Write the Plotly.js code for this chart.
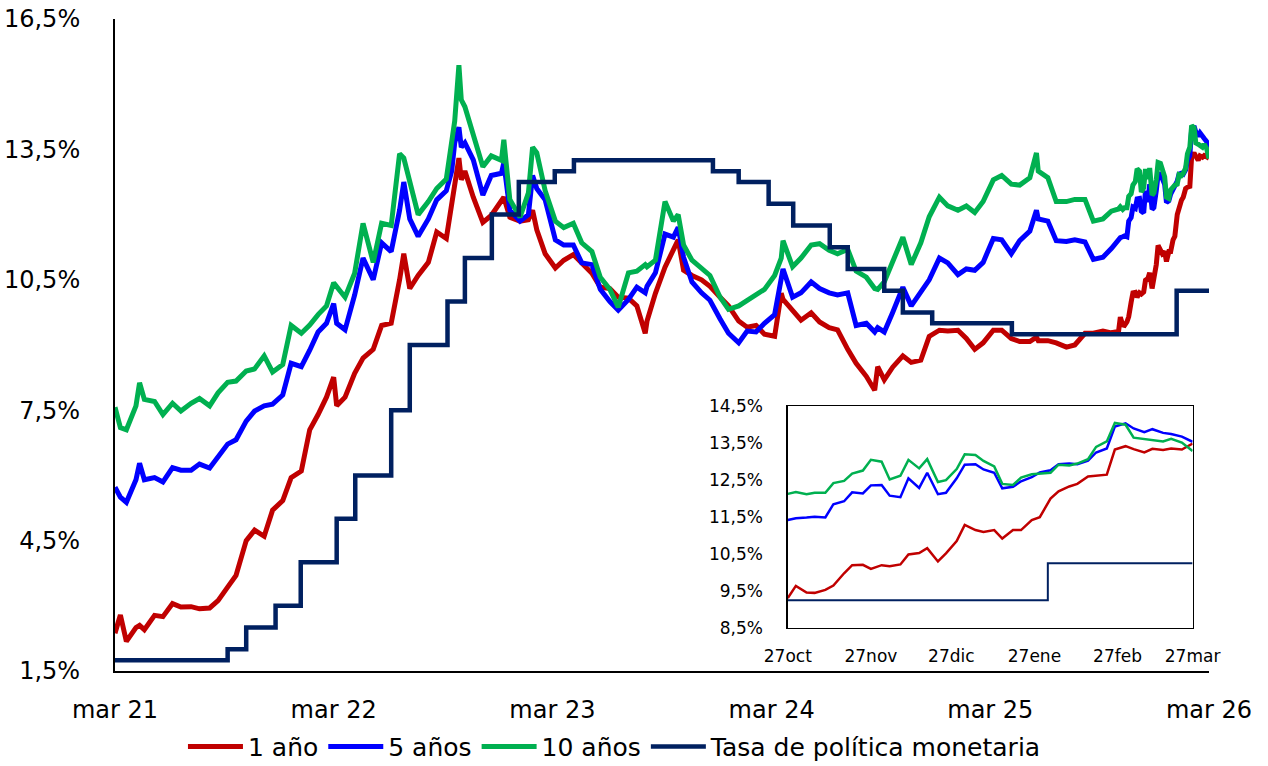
<!DOCTYPE html>
<html>
<head>
<meta charset="utf-8">
<script src="https://cdn.plot.ly/plotly-3.0.1.min.js"></script>
<style>
html,body{margin:0;padding:0;background:#fff;}
#chart{width:1268px;height:766px;}
</style>
</head>
<body>
<div id="chart"></div>
<script>
// ---------- Main chart data (tasas cero cupón, %) ----------
const dates = [
'2021-03-27','2021-04-05','2021-04-15','2021-05-01','2021-05-07','2021-05-15','2021-06-01','2021-06-15','2021-07-01','2021-07-15','2021-08-01','2021-08-15','2021-09-01','2021-09-15','2021-10-01','2021-10-15','2021-11-01','2021-11-15','2021-12-01','2021-12-15',
'2022-01-01','2022-01-15','2022-02-01','2022-02-15','2022-03-01','2022-03-15','2022-03-27','2022-04-01','2022-04-15','2022-05-01','2022-05-15','2022-06-01','2022-06-15','2022-07-01','2022-07-15','2022-07-22','2022-08-01','2022-08-15','2022-09-01','2022-09-15','2022-10-01','2022-10-10','2022-10-15','2022-10-22','2022-10-26','2022-11-01','2022-11-15','2022-12-01','2022-12-15',
'2023-01-01','2023-01-05','2023-01-15','2023-02-01','2023-02-15','2023-02-22','2023-03-01','2023-03-15','2023-04-01','2023-04-15','2023-05-01','2023-05-15','2023-06-01','2023-06-15','2023-07-01','2023-07-15','2023-08-01','2023-08-15','2023-08-29','2023-09-01','2023-09-15','2023-10-01','2023-10-15','2023-10-23','2023-11-01','2023-11-15','2023-12-01','2023-12-15',
'2024-01-01','2024-01-15','2024-02-01','2024-02-15','2024-03-01','2024-03-15','2024-04-01','2024-04-12','2024-04-15','2024-05-01','2024-05-15','2024-06-01','2024-06-15','2024-07-01','2024-07-15','2024-08-01','2024-08-15','2024-09-01','2024-09-15','2024-09-20','2024-10-01','2024-10-15','2024-11-01','2024-11-15','2024-12-01','2024-12-15',
'2025-01-01','2025-01-15','2025-02-01','2025-02-15','2025-03-01','2025-03-15','2025-04-01','2025-04-15','2025-05-01','2025-05-15','2025-06-01','2025-06-12','2025-06-15','2025-07-01','2025-07-15','2025-08-01','2025-08-15','2025-09-01','2025-09-15','2025-10-01','2025-10-15'
];
const y1 = [
2.37,2.79,2.18,2.50,2.55,2.45,2.78,2.75,3.05,2.97,2.98,2.93,2.95,3.12,3.43,3.70,4.50,4.74,4.60,5.20,
5.42,5.95,6.10,7.05,7.40,7.80,8.26,7.60,7.80,8.35,8.70,8.90,9.45,9.50,10.50,11.10,10.30,10.60,10.90,11.60,11.45,12.20,12.60,13.30,12.80,13.00,12.40,11.82,11.98,
12.30,12.40,11.94,11.85,11.88,12.10,11.65,11.10,10.77,10.95,11.08,10.89,10.65,10.33,10.30,10.10,10.08,9.90,9.27,9.55,10.19,10.79,11.20,11.42,10.72,10.60,10.50,10.35,
10.10,9.90,9.55,9.41,9.45,9.25,9.20,10.19,10.05,9.80,9.57,9.74,9.53,9.40,9.35,8.90,8.58,8.28,7.96,8.50,8.20,8.49,8.75,8.60,8.65,9.20,
9.34,9.32,9.34,9.15,8.90,9.05,9.34,9.34,9.15,9.08,9.08,9.18,9.10,9.10,9.05,8.95,9.00,9.27,9.27,9.32,9.28
];
const y5 = [
5.73,5.50,5.38,5.90,6.28,5.90,5.95,5.85,6.18,6.12,6.12,6.26,6.17,6.42,6.72,6.82,7.25,7.48,7.60,7.64,
7.85,8.58,8.50,8.88,9.30,9.50,9.95,9.50,9.35,10.15,11.00,10.50,11.35,11.15,12.10,12.75,11.90,11.50,11.90,12.34,12.55,13.00,13.65,14.01,13.55,13.65,13.26,12.45,12.90,
12.95,13.19,12.10,11.85,12.00,12.90,12.60,12.34,11.42,11.30,11.30,10.89,10.85,10.28,10.00,9.80,10.05,10.33,10.20,10.35,10.66,11.55,11.48,11.71,11.02,10.45,10.20,10.03,
9.60,9.27,9.05,9.32,9.30,9.50,9.70,10.50,10.75,10.10,10.20,10.45,10.30,10.20,10.15,10.20,9.45,9.50,9.30,9.40,9.30,9.75,10.33,9.90,10.20,10.50,
11.00,10.89,10.62,10.75,10.72,10.90,11.45,11.42,11.10,11.40,11.62,12.10,11.90,11.85,11.40,11.38,11.42,11.37,10.97,11.02,11.22
];
const y10 = [
7.57,7.10,7.05,7.60,8.13,7.75,7.70,7.40,7.66,7.48,7.66,7.77,7.60,7.90,8.14,8.17,8.40,8.45,8.75,8.38,
8.55,9.45,9.27,9.46,9.70,9.90,10.43,10.35,10.10,10.65,11.80,10.90,11.80,11.75,13.40,13.30,12.80,12.00,12.30,12.60,12.82,13.60,14.15,15.44,14.64,14.48,13.83,13.10,13.35,
13.25,13.72,12.35,11.94,12.50,13.55,13.42,12.55,11.85,11.70,11.80,11.35,11.15,10.56,10.28,9.87,10.66,10.70,10.85,10.80,10.95,12.30,11.85,12.00,11.30,10.95,10.77,10.60,
10.10,9.82,9.90,10.03,10.14,10.28,10.60,11.00,11.40,10.80,11.00,11.30,11.33,11.18,11.10,11.20,10.70,10.56,10.30,10.28,10.45,10.95,11.48,10.85,11.35,11.95,
12.40,12.20,12.10,12.20,12.05,12.30,12.80,12.90,12.70,12.68,12.85,13.42,13.00,12.85,12.30,12.30,12.35,12.35,11.85,11.90,12.08
];

// ---------- Recent period (also shown in the inset) ----------
const insetDates = [
'2025-10-27','2025-10-30','2025-11-03','2025-11-06','2025-11-10','2025-11-13','2025-11-17','2025-11-20','2025-11-24','2025-11-27',
'2025-12-01','2025-12-04','2025-12-08','2025-12-11','2025-12-15','2025-12-18','2025-12-22','2025-12-25','2025-12-29','2026-01-01',
'2026-01-05','2026-01-08','2026-01-12','2026-01-15','2026-01-19','2026-01-22','2026-01-26','2026-01-29','2026-02-02','2026-02-05',
'2026-02-09','2026-02-12','2026-02-16','2026-02-19','2026-02-23','2026-02-26','2026-03-02','2026-03-05','2026-03-09','2026-03-12',
'2026-03-16','2026-03-19','2026-03-23','2026-03-27'
];
const in1 = [9.31,9.64,9.46,9.45,9.53,9.65,9.98,10.20,10.21,10.10,10.20,10.17,10.22,10.49,10.53,10.66,10.30,10.52,10.85,11.29,11.15,11.10,11.15,10.92,11.15,11.15,11.42,11.50,12.00,12.20,12.33,12.40,12.60,12.63,12.65,13.33,13.42,13.34,13.25,13.35,13.32,13.36,13.33,13.49];
const in5 = [11.42,11.47,11.49,11.51,11.49,11.85,11.93,12.17,12.14,12.36,12.37,12.08,12.04,12.55,12.29,12.70,12.12,12.16,12.55,12.92,12.93,12.79,12.70,12.28,12.32,12.47,12.58,12.71,12.77,12.93,12.95,12.93,13.03,13.25,13.36,13.95,14.04,13.90,13.80,13.88,13.78,13.75,13.68,13.54];
const in10 = [12.13,12.18,12.12,12.16,12.16,12.42,12.48,12.68,12.76,13.05,13.00,12.52,12.62,13.05,12.82,13.07,12.45,12.50,12.80,13.20,13.18,13.02,12.87,12.40,12.37,12.57,12.66,12.68,12.70,12.92,12.90,12.95,13.07,13.40,13.55,14.05,14.00,13.65,13.62,13.60,13.55,13.62,13.52,13.29];

// ---------- Tasa de política monetaria (fecha de cambio, nivel) ----------
const tpmDates = ['2021-03-27','2021-10-01','2021-11-01','2021-12-20','2022-01-31','2022-04-01','2022-05-02','2022-07-01','2022-08-01','2022-10-03','2022-11-01','2022-12-16','2023-01-30','2023-03-31','2023-05-02','2023-12-20','2024-02-01','2024-03-22','2024-05-02','2024-07-02','2024-08-01','2024-10-01','2024-11-01','2024-12-20','2025-05-02','2026-02-01','2026-03-27'];
const tpmVals  = [1.75,2.0,2.5,3.0,4.0,5.0,6.0,7.5,9.0,10.0,11.0,12.0,12.75,13.0,13.25,13.0,12.75,12.25,11.75,11.25,10.75,10.25,9.75,9.5,9.25,10.25,10.25];

// ---------- Labels ----------
const seriesNames = ['1 año','5 años','10 años','Tasa de política monetaria'];
const seriesColors = ['#C00000','#0000FF','#00B050','#002060'];
const mainXTickVals = ['2021-03-27','2022-03-27','2023-03-27','2024-03-27','2025-03-27','2026-03-27'];
const mainXTickText = ['mar 21','mar 22','mar 23','mar 24','mar 25','mar 26'];
const mainYTickVals = [1.5,4.5,7.5,10.5,13.5,16.5];
const mainYTickText = ['1,5%','4,5%','7,5%','10,5%','13,5%','16,5%'];
const insetXTickVals = ['2025-10-27','2025-11-27','2025-12-27','2026-01-27','2026-02-27','2026-03-27'];
const insetXTickText = ['27oct','27nov','27dic','27ene','27feb','27mar'];
const insetYTickVals = [8.5,9.5,10.5,11.5,12.5,13.5,14.5];
const insetYTickText = ['8,5%','9,5%','10,5%','11,5%','12,5%','13,5%','14,5%'];

// ---------- Build traces ----------
const allDates = dates.concat(insetDates);
const main1 = y1.concat(in1), main5 = y5.concat(in5), main10 = y10.concat(in10);

// TPM for inset: level in effect at inset start, then later changes
const insetStart = insetDates[0];
let startLevel = tpmVals[0];
tpmDates.forEach((d,i)=>{ if (d <= insetStart) startLevel = tpmVals[i]; });
const tpmInX = [insetStart], tpmInY = [startLevel];
tpmDates.forEach((d,i)=>{ if (d > insetStart) { tpmInX.push(d); tpmInY.push(tpmVals[i]); } });

const FONT = 'DejaVu Sans, sans-serif';
const traces = [
  {x: allDates, y: main1, name: seriesNames[0], mode:'lines', line:{color:seriesColors[0], width:5}, xaxis:'x', yaxis:'y'},
  {x: allDates, y: main5, name: seriesNames[1], mode:'lines', line:{color:seriesColors[1], width:5}, xaxis:'x', yaxis:'y'},
  {x: allDates, y: main10, name: seriesNames[2], mode:'lines', line:{color:seriesColors[2], width:5}, xaxis:'x', yaxis:'y'},
  {x: tpmDates, y: tpmVals, name: seriesNames[3], mode:'lines', line:{color:seriesColors[3], width:4.5, shape:'hv'}, xaxis:'x', yaxis:'y'},
  {x: insetDates, y: in1, name: seriesNames[0], showlegend:false, mode:'lines', line:{color:seriesColors[0], width:2.5}, xaxis:'x2', yaxis:'y2'},
  {x: insetDates, y: in5, name: seriesNames[1], showlegend:false, mode:'lines', line:{color:seriesColors[1], width:2.5}, xaxis:'x2', yaxis:'y2'},
  {x: insetDates, y: in10, name: seriesNames[2], showlegend:false, mode:'lines', line:{color:seriesColors[2], width:2.5}, xaxis:'x2', yaxis:'y2'},
  {x: tpmInX, y: tpmInY, name: seriesNames[3], showlegend:false, mode:'lines', line:{color:seriesColors[3], width:2, shape:'hv'}, xaxis:'x2', yaxis:'y2'}
];

const layout = {
  width: 1268, height: 766,
  margin: {l:115, r:59, t:19, b:95, autoexpand:false},
  paper_bgcolor:'#ffffff', plot_bgcolor:'#ffffff',
  font: {family: FONT, color:'#000000', size:24},
  showlegend: true,
  legend: {orientation:'h', x:0.457, xanchor:'center', y:-0.116, yanchor:'middle', itemwidth:55, font:{family:FONT, size:25, color:'#000'}, bgcolor:'rgba(0,0,0,0)'},
  xaxis: {
    type:'date', range:['2021-03-27','2026-03-27'], domain:[0,1],
    tickmode:'array', tickvals: mainXTickVals, ticktext: mainXTickText,
    showline:true, linecolor:'#000', linewidth:2, showgrid:false, zeroline:false, ticks:'',
    tickfont:{family:FONT, size:24, color:'#000'}, ticklabelstandoff:16
  },
  yaxis: {
    range:[1.5,16.5], domain:[0,1],
    tickmode:'array', tickvals: mainYTickVals, ticktext: mainYTickText,
    showline:true, linecolor:'#000', linewidth:2, showgrid:false, zeroline:false, ticks:'',
    tickfont:{family:FONT, size:24, color:'#000'}, ticklabelstandoff:28
  },
  xaxis2: {
    type:'date', anchor:'y2', domain:[0.615,0.985], range:['2025-10-27','2026-03-27'],
    tickmode:'array', tickvals: insetXTickVals, ticktext: insetXTickText,
    showline:true, mirror:true, linecolor:'#000', linewidth:1.5, showgrid:false, zeroline:false, ticks:'',
    tickfont:{family:FONT, size:17, color:'#000'}, ticklabelstandoff:12
  },
  yaxis2: {
    anchor:'x2', domain:[0.066,0.406], range:[8.5,14.5],
    tickmode:'array', tickvals: insetYTickVals, ticktext: insetYTickText,
    showline:true, mirror:true, linecolor:'#000', linewidth:1.5, showgrid:false, zeroline:false, ticks:'',
    tickfont:{family:FONT, size:17, color:'#000'}, ticklabelstandoff:20
  }
};

Plotly.newPlot('chart', traces, layout, {displayModeBar:false, staticPlot:true});
</script>
</body>
</html>
